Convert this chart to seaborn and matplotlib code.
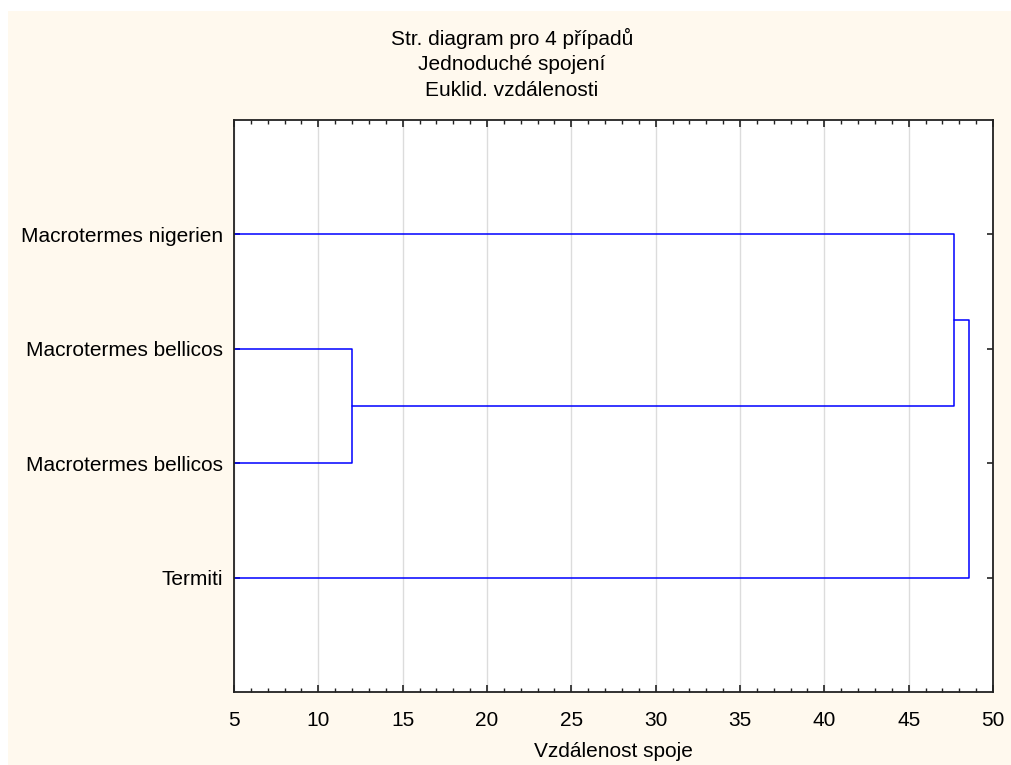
import numpy as np
import pandas as pd
import matplotlib
matplotlib.use("Agg")
import matplotlib.pyplot as plt
from matplotlib.patches import Rectangle
from matplotlib.ticker import MultipleLocator
import seaborn as sns

# Leaves from top to bottom and the joining distances of the single linkage tree
leaves = ["Macrotermes nigerien", "Macrotermes bellicos", "Macrotermes bellicos", "Termiti"]
# each merge: (left node, right node, distance); nodes 0..3 are leaves, 4.. are clusters
merges = [(1, 2, 12.0), (0, 4, 47.7), (5, 3, 48.6)]

title_lines = ["Str. diagram pro 4 případů", "Jednoduché spojení", "Euklid. vzdálenosti"]
x_label = "Vzdálenost spoje"
x_ticks = [5, 10, 15, 20, 25, 30, 35, 40, 45, 50]

# Build the bracket segments (distance on x, leaf position on y)
pos = {i: (float(i + 1), 0.0) for i in range(len(leaves))}
rows = []
for k, (a, b, d) in enumerate(merges):
    ya, ha = pos[a]
    yb, hb = pos[b]
    for x, y in [(ha, ya), (d, ya), (d, yb), (hb, yb)]:
        rows.append({"link": k, "dist": x, "leaf": y})
    pos[len(leaves) + k] = ((ya + yb) / 2, d)
links = pd.DataFrame(rows)

sns.set_theme(style="white")
plt.rcParams["font.family"] = ["Liberation Sans", "DejaVu Sans"]
plt.rcParams["text.color"] = "black"
plt.rcParams["xtick.labelcolor"] = "black"
plt.rcParams["ytick.labelcolor"] = "black"
plt.rcParams["axes.labelcolor"] = "black"

cream = "#FFF9EE"
fig = plt.figure(figsize=(10.11, 7.65), dpi=100, facecolor="white")
fig.patches.append(Rectangle((8 / 1011, 0), 1, 1 - 11 / 765, transform=fig.transFigure,
                             facecolor=cream, edgecolor="none", zorder=-10))
ax = fig.add_axes([234 / 1011, 1 - 692 / 765, (993 - 234) / 1011, (692 - 120) / 765])
ax.set_facecolor("white")

sns.lineplot(data=links, x="dist", y="leaf", units="link", estimator=None, sort=False,
             color="#0000FF", linewidth=1.1, ax=ax, legend=False)

ax.set_xlim(5, 50)
ax.set_ylim(5, 0)
ax.set_xticks(x_ticks)
ax.xaxis.set_minor_locator(MultipleLocator(1))
ax.set_yticks(range(1, len(leaves) + 1))
ax.set_yticklabels(leaves)
ax.grid(axis="x", which="major", color="#DCDCDC", linewidth=1.0)
ax.set_axisbelow(True)

for s in ax.spines.values():
    s.set_color("#222222")
    s.set_linewidth(1.3)
    s.set_visible(True)

ax.tick_params(axis="x", which="major", direction="in", top=True, bottom=True,
               length=5, width=1.2, color="#222222", labelsize=15, pad=14)
ax.tick_params(axis="x", which="minor", direction="in", top=True, bottom=True,
               length=3, width=1.0, color="#222222")
ax.tick_params(axis="y", which="major", direction="in", left=True, right=True,
               length=4, width=1.2, color="#222222", labelsize=15, pad=8)

ax.set_xlabel(x_label, fontsize=15, labelpad=8)
ax.set_ylabel("")

for i, line in enumerate(title_lines):
    fig.text(512 / 1011, 1 - (38 + 26.5 * i) / 765, line, ha="center", va="center", fontsize=15)

fig.savefig("out.png", dpi=100, facecolor=fig.get_facecolor())
